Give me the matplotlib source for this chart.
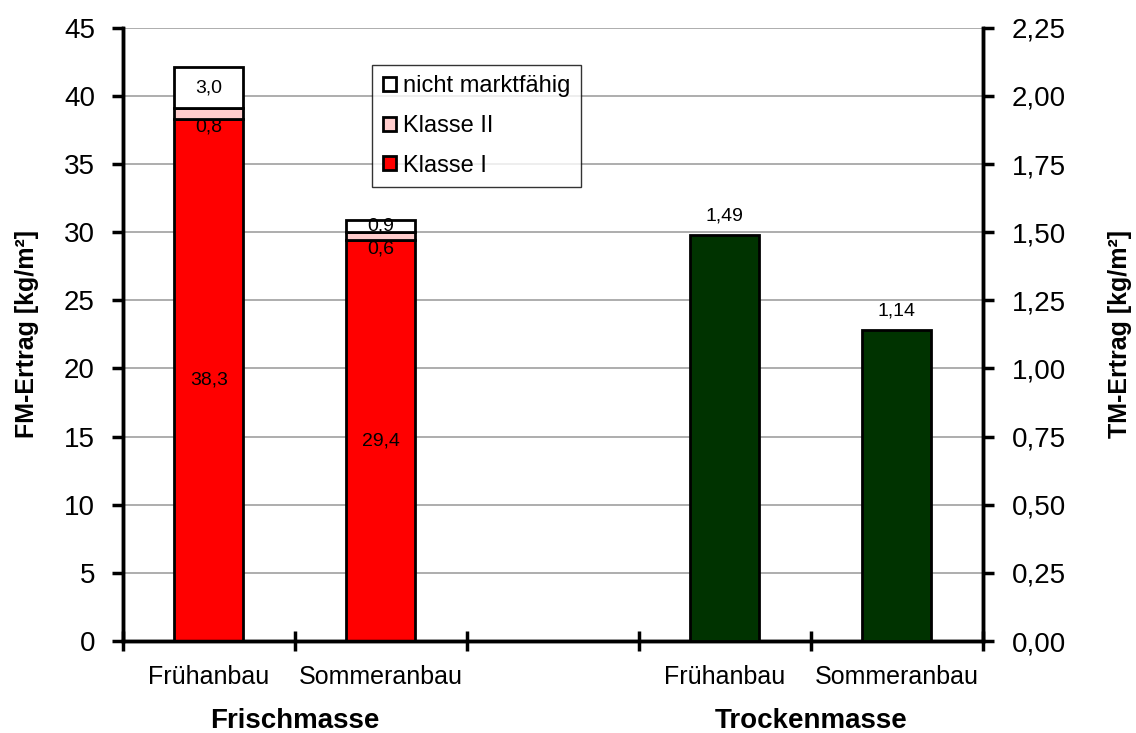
import matplotlib
matplotlib.use("Agg")
import matplotlib.pyplot as plt
from matplotlib.ticker import FuncFormatter, MultipleLocator
from matplotlib.patches import Patch

plt.rcParams['font.family'] = ['Liberation Sans', 'DejaVu Sans']

# Data
categories = ["Frühanbau", "Sommeranbau", "", "Frühanbau", "Sommeranbau"]
groups = ["Frischmasse", "Trockenmasse"]
fm_klasse1 = [38.3, 29.4]
fm_klasse2 = [0.8, 0.6]
fm_nicht = [3.0, 0.9]
tm_values = [1.49, 1.14]
series_names = ["nicht marktfähig", "Klasse II", "Klasse I"]

c_k1 = "#FF0000"
c_k2 = "#FFCCCC"
c_nm = "#FFFFFF"
c_tm = "#003300"

def de(v, nd):
    return f"{v:.{nd}f}".replace(".", ",")

fig = plt.figure(figsize=(11.36, 7.33), dpi=100)
ax = fig.add_axes([0.108, 0.1255, 0.757, 0.8365])
ax2 = ax.twinx()

fm_x = [0.5, 1.5]
tm_x = [3.5, 4.5]
w = 0.4
ekw = dict(edgecolor="black", linewidth=2, zorder=3)

ax.bar(fm_x, fm_klasse1, w, color=c_k1, **ekw)
bottom2 = fm_klasse1
ax.bar(fm_x, fm_klasse2, w, bottom=bottom2, color=c_k2, **ekw)
bottom3 = [a + b for a, b in zip(fm_klasse1, fm_klasse2)]
ax.bar(fm_x, fm_nicht, w, bottom=bottom3, color=c_nm, **ekw)

ax2.bar(tm_x, tm_values, w, color=c_tm, **ekw)

# Value labels
lab = dict(ha="center", fontsize=14, zorder=5)
for x, v in zip(fm_x, fm_klasse1):
    ax.text(x, v / 2, de(v, 1), va="center", **lab)
for x, b, v in zip(fm_x, bottom2, fm_klasse2):
    ax.annotate(de(v, 1), (x, b + v / 2), xytext=(0, -13), textcoords="offset pixels",
                va="center", **lab)
for x, b, v in zip(fm_x, bottom3, fm_nicht):
    ax.text(x, b + v / 2, de(v, 1), va="center", **lab)
for x, v in zip(tm_x, tm_values):
    ax2.annotate(de(v, 2), (x, v), xytext=(0, 19), textcoords="offset pixels",
                 va="center", **lab)

# Axes limits and ticks
ax.set_xlim(0, 5)
ax.set_ylim(0, 45)
ax2.set_ylim(0, 2.25)
ax.yaxis.set_major_locator(MultipleLocator(5))
ax2.yaxis.set_major_locator(MultipleLocator(0.25))
ax.yaxis.set_major_formatter(FuncFormatter(lambda v, p: f"{v:.0f}"))
ax2.yaxis.set_major_formatter(FuncFormatter(lambda v, p: de(v, 2)))

ax.grid(axis="y", color="#A0A0A0", linewidth=1.2, zorder=0)
ax.set_axisbelow(True)

ax.set_xticks(range(6))
ax.set_xticklabels([])
ax.set_xticks([i + 0.5 for i in range(5)], minor=True)
ax.set_xticklabels(categories, minor=True, fontsize=18)
ax.tick_params(axis="x", which="major", direction="inout", length=14, width=2.5)
ax.tick_params(axis="x", which="minor", length=0, pad=17)
ax.tick_params(axis="y", which="major", direction="out", length=8, width=2.5, labelsize=20, pad=12)
ax2.tick_params(axis="y", which="major", direction="out", length=8, width=2.5, labelsize=20, pad=13)

for a in (ax, ax2):
    a.spines["top"].set_visible(False)
    for s in ("left", "right", "bottom"):
        a.spines[s].set_linewidth(2.5)

ax.set_ylabel("FM-Ertrag [kg/m²]", fontsize=18, fontweight="bold", labelpad=18)
ax2.set_ylabel("TM-Ertrag [kg/m²]", fontsize=18, fontweight="bold", labelpad=30)

# Group captions beneath the categories
for gx, g in zip([1.0, 4.0], groups):
    ax.text(gx, -0.131, g, transform=ax.get_xaxis_transform(), ha="center", va="center",
            fontsize=20, fontweight="bold")

handles = [Patch(facecolor=c_nm, edgecolor="black", linewidth=2),
           Patch(facecolor=c_k2, edgecolor="black", linewidth=2),
           Patch(facecolor=c_k1, edgecolor="black", linewidth=2)]
leg = ax.legend(handles, series_names, loc="upper left", bbox_to_anchor=(0.29, 0.94),
                fontsize=17, frameon=True, fancybox=False, edgecolor="black",
                handlelength=0.55, handleheight=0.55, handletextpad=0.3,
                labelspacing=0.75, borderpad=0.45, borderaxespad=0)
leg.get_frame().set_linewidth(1)
leg.set_zorder(10)

fig.savefig("out.png", dpi=100, facecolor="white")
